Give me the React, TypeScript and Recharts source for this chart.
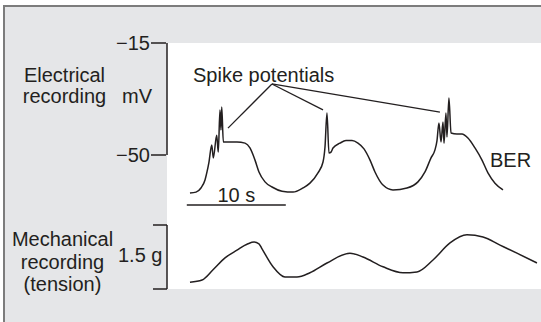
import { LineChart, Line, XAxis, YAxis, CartesianGrid, ReferenceLine } from 'recharts';

// electrical recording (time in s, membrane potential in mV)
const elecTime = [
  2.32, 2.93, 3.43, 3.84, 4.04, 4.24, 4.52, 4.68, 5.02, 5.18, 5.35, 5.45, 5.53, 5.69, 5.86, 7.07,
  7.88, 8.38, 8.89, 9.29, 9.9, 10.61, 11.62, 12.73, 13.74, 14.44, 15.25, 15.76, 15.96, 16.16,
  16.36, 16.57, 16.77, 17.47, 18.08, 18.69, 19.29, 19.9, 20.51, 21.01, 21.82, 22.83, 24.24,
  25.35, 26.06, 26.67, 27.07, 27.27, 27.47, 27.68, 27.88, 27.98, 28.18, 28.28, 28.48, 28.69,
  29.29, 29.8, 30.4, 31.11, 31.82, 32.42, 33.13, 33.94,
];
const elecMv = [
  -61.9, -61.6, -60.3, -57.8, -55.3, -52.2, -46.9, -50.9, -43.8, -49.1, -35.9, -42.2, -35.0, -45.9,
  -45.9, -45.9, -46.3, -47.8, -51.6, -55.3, -58.4, -60.0, -61.3, -61.6, -60.3, -58.8, -55.6,
  -52.2, -47.5, -36.9, -49.4, -49.1, -47.8, -46.3, -45.5, -45.5, -46.3, -48.1, -51.6, -55.3,
  -59.4, -60.9, -60.3, -58.4, -55.3, -50.9, -48.4, -45.6, -40.0, -45.9, -39.7, -46.3, -36.9,
  -44.4, -32.2, -43.1, -43.4, -43.4, -44.7, -47.8, -51.6, -55.6, -58.8, -60.9,
];

// mechanical recording (time in s, tension in g)
const mechTime = [
  2.32, 3.54, 4.65, 5.86, 7.07, 8.18, 8.79, 9.29, 9.6, 10.71, 11.92, 13.13, 14.44, 16.16, 18.48,
  19.8, 21.82, 23.84, 25.25, 26.87, 28.59, 30.3, 31.92, 33.64, 35.35, 37.37,
];
const mechTension = [
  0.16, 0.21, 0.45, 0.73, 0.91, 1.06, 1.1, 1.06, 0.94, 0.52, 0.28, 0.28, 0.38, 0.61, 0.84, 0.75,
  0.52, 0.38, 0.4, 0.68, 1.08, 1.27, 1.22, 1.03, 0.84, 0.61,
];

const mvTicks = [-15, -50];
const gTicks = [0, 1.5];

// pointer lines from the "Spike potentials" label to each burst
const spikeLabelPoint = { t: 10.6, mv: -27.8 };
const spikeTargets = [
  { t: 6.16, mv: -41.6 },
  { t: 15.76, mv: -35.9 },
  { t: 27.57, mv: -36.6 },
];

const ink = '#231f20';
const font = '"Liberation Sans", Arial, sans-serif';

const MvTick = (props: any) => (
  <text x={props.x} y={props.y} dy={7} textAnchor="end" fill={ink} fontSize={20} fontFamily={font}>
    {`\u2212${Math.abs(props.payload.value)}`}
  </text>
);

export default function App() {
  const elecData = elecTime.map((t, i) => ({ t, mv: elecMv[i] }));
  const mechData = mechTime.map((t, i) => ({ t, g: mechTension[i] }));

  return (
    <div style={{ position: 'absolute', left: 0, top: 0, width: 541, height: 322, background: '#fff', overflow: 'hidden' }}>
      <div
        style={{
          position: 'absolute',
          left: 3,
          top: 5,
          right: 0,
          bottom: 0,
          background: '#e5e6e8',
          borderLeft: '2px solid #7c7c7c',
          borderTop: '2px solid #7c7c7c',
        }}
      />
      <div style={{ position: 'absolute', left: 0, top: 0 }}>
        <LineChart width={541} height={322} margin={{ top: 43, right: 0, bottom: 33, left: 165 }}>
          <CartesianGrid fill="#fff" horizontal={false} vertical={false} />
          <XAxis type="number" dataKey="t" domain={[0, 37.78]} hide />
          <YAxis
            yAxisId="mv"
            type="number"
            domain={[-91.875, -15]}
            ticks={mvTicks}
            interval={0}
            width={1}
            axisLine={false}
            tickSize={15}
            tickMargin={1}
            tickLine={{ stroke: ink, strokeWidth: 1.5 }}
            tick={<MvTick />}
          />
          <YAxis
            yAxisId="g"
            type="number"
            domain={[0, 5.765625]}
            ticks={gTicks}
            interval={0}
            width={1}
            axisLine={false}
            tickSize={14}
            tickLine={{ stroke: ink, strokeWidth: 1.5 }}
            tickFormatter={() => ''}
          />
          <ReferenceLine
            yAxisId="mv"
            segment={[{ x: 0, y: mvTicks[0] }, { x: 0, y: mvTicks[1] }]}
            stroke={ink}
            strokeWidth={1.5}
            ifOverflow="visible"
          />
          <ReferenceLine
            yAxisId="g"
            segment={[{ x: 0, y: gTicks[0] }, { x: 0, y: gTicks[1] }]}
            stroke={ink}
            strokeWidth={1.5}
            ifOverflow="visible"
          />
          <ReferenceLine
            yAxisId="mv"
            segment={[{ x: 2, y: -65.6 }, { x: 12, y: -65.6 }]}
            stroke={ink}
            strokeWidth={1.5}
            label={{ value: '10 s', position: 'top', offset: 3, fill: ink, fontSize: 20, fontFamily: font }}
          />
          {spikeTargets.map((p, i) => (
            <ReferenceLine
              key={i}
              yAxisId="mv"
              segment={[{ x: spikeLabelPoint.t, y: spikeLabelPoint.mv }, { x: p.t, y: p.mv }]}
              stroke={ink}
              strokeWidth={1.3}
            />
          ))}
          <Line
            yAxisId="mv"
            data={elecData}
            dataKey="mv"
            type="monotone"
            stroke={ink}
            strokeWidth={1.5}
            dot={false}
            activeDot={false}
            isAnimationActive={false}
          />
          <Line
            yAxisId="g"
            data={mechData}
            dataKey="g"
            type="monotone"
            stroke={ink}
            strokeWidth={1.5}
            dot={false}
            activeDot={false}
            isAnimationActive={false}
          />
        </LineChart>
      </div>
      <svg width={541} height={322} style={{ position: 'absolute', left: 0, top: 0, pointerEvents: 'none' }}>
        <g fill={ink} fontSize={20} fontFamily={font}>
          <text x={64.5} y={82} textAnchor="middle">Electrical</text>
          <text x={64.5} y={103} textAnchor="middle">recording</text>
          <text x={152} y={103} textAnchor="end">mV</text>
          <text x={193} y={82}>Spike potentials</text>
          <text x={490} y={167}>BER</text>
          <text x={62.5} y={246} textAnchor="middle">Mechanical</text>
          <text x={62.5} y={268.5} textAnchor="middle">recording</text>
          <text x={62.5} y={291} textAnchor="middle">(tension)</text>
          <text x={118} y={262}>1.5 g</text>
        </g>
      </svg>
    </div>
  );
}
